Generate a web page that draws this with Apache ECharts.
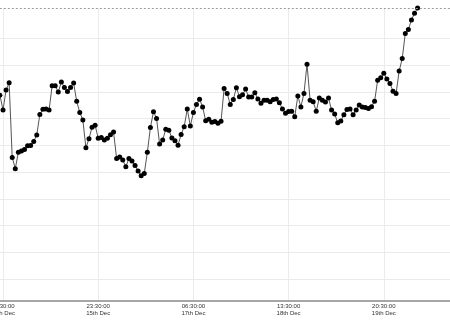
<!DOCTYPE html>
<html><head><meta charset="utf-8">
<script src="https://cdn.jsdelivr.net/npm/echarts@6/dist/echarts.min.js"></script>
<style>html,body{margin:0;padding:0;background:#fff}#c{width:450px;height:320px}</style>
</head><body><div id="c"></div>
<script>
// first reading time (UTC) and hourly readings
const firstReading = [2013, 11, 14, 15, 30];
const readingStepHours = 1;
const readings = [
  78.8, 73.2, 80.7, 83.4, 55.5, 51.3, 57.4, 57.9, 58.5, 59.9,
  60.0, 61.5, 63.9, 71.6, 73.5, 73.6, 73.2, 82.3, 82.3, 80.0,
  83.7, 81.7, 80.2, 81.7, 83.3, 76.5, 72.3, 69.5, 59.1, 62.5,
  66.8, 67.5, 62.7, 63.0, 62.0, 62.7, 64.0, 65.0, 55.1, 55.7,
  54.5, 52.0, 55.1, 54.2, 52.5, 50.4, 48.6, 49.5, 57.4, 66.7,
  72.6, 70.1, 60.5, 62.0, 66.0, 65.7, 62.8, 61.7, 60.1, 64.1,
  67.0, 73.6, 67.3, 72.3, 75.3, 77.3, 74.4, 69.2, 69.8, 68.7,
  68.9, 68.3, 69.0, 81.3, 79.4, 75.3, 77.2, 81.6, 78.2, 78.9,
  81.1, 78.1, 78.1, 79.7, 77.4, 75.8, 76.9, 76.9, 76.3, 77.2,
  77.4, 76.0, 73.6, 72.0, 72.7, 72.8, 70.7, 78.5, 74.4, 79.4,
  90.4, 76.9, 76.3, 72.8, 77.7, 76.9, 76.2, 77.7, 73.2, 71.7,
  68.5, 69.1, 71.5, 73.4, 73.6, 71.5, 73.2, 75.1, 74.4, 74.2,
  73.8, 74.5, 76.5, 84.4, 85.3, 87.0, 84.8, 83.2, 80.3, 79.4,
  87.8, 92.5, 101.9, 103.4, 106.9, 109.4, 111.4
];
// x-axis tick range (UTC) and tick spacing in hours
const xTickFirst = [2013, 11, 13, 9, 30];
const xTickLast = [2013, 11, 21, 3, 30];
const xTickHours = 31;
const yMin = 1.9;
const monthNames = ['Jan','Feb','Mar','Apr','May','Jun','Jul','Aug','Sep','Oct','Nov','Dec'];

const H = 3600000;
const toTs = a => Date.UTC(a[0], a[1], a[2], a[3], a[4]);
const t0 = toTs(firstReading);
const seriesData = readings.map((v, i) => [t0 + i * readingStepHours * H, v]);
const pad = n => (n < 10 ? '0' : '') + n;
function suffix(d){ if (d % 10 === 1 && d !== 11) return 'st'; if (d % 10 === 2 && d !== 12) return 'nd'; if (d % 10 === 3 && d !== 13) return 'rd'; return 'th'; }
function fmt(v){
  const d = new Date(v);
  return pad(d.getUTCHours()) + ':' + pad(d.getUTCMinutes()) + ':' + pad(d.getUTCSeconds()) +
    '\n' + d.getUTCDate() + suffix(d.getUTCDate()) + ' ' + monthNames[d.getUTCMonth()];
}
const gridColors = ['#ebebeb','#ebebeb','#ebebeb','#ebebeb','#ebebeb','#ebebeb','#ebebeb','#ebebeb','#ebebeb','#ebebeb','rgba(0,0,0,0)'];

const chart = echarts.init(document.getElementById('c'), null, {renderer: 'canvas'});
chart.setOption({
  animation: false,
  backgroundColor: '#fff',
  grid: {left: -92.2, right: -29, top: 8, bottom: 19.3, containLabel: false, outerBoundsMode: 'none'},
  xAxis: {
    type: 'value',
    min: toTs(xTickFirst), max: toTs(xTickLast), interval: xTickHours * H,
    axisLine: {show: true, lineStyle: {color: '#888', width: 1.5}},
    axisTick: {show: false},
    axisLabel: {formatter: fmt, fontSize: 6, lineHeight: 6.5, color: '#333', margin: 2.5, fontFamily: 'Liberation Sans, Arial, sans-serif'},
    splitLine: {show: true, lineStyle: {color: '#ebebeb', width: 1}}
  },
  yAxis: {
    type: 'value',
    min: yMin, max: 'dataMax', minInterval: 10, maxInterval: 10,
    axisLine: {show: false}, axisTick: {show: false}, axisLabel: {show: false},
    splitLine: {show: true, showMinLine: false, showMaxLine: false, lineStyle: {color: gridColors, width: 1}}
  },
  series: [{
    type: 'line',
    data: seriesData,
    symbol: 'circle', symbolSize: 5, showSymbol: true,
    lineStyle: {color: '#555', width: 1},
    itemStyle: {color: '#000'},
    clip: false,
    markLine: {
      silent: true, symbol: 'none', label: {show: false},
      lineStyle: {type: [2, 2], color: '#999', width: 1},
      data: [{type: 'max'}]
    }
  }]
});
</script></body></html>
